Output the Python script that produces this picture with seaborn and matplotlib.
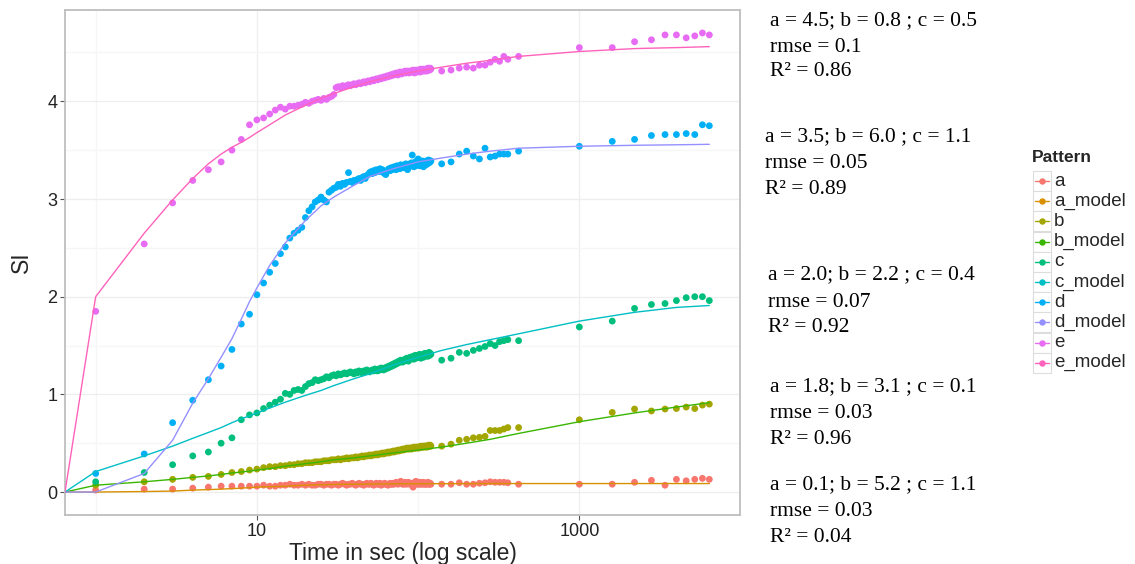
import numpy as np
import pandas as pd
import matplotlib
matplotlib.use("Agg")
import matplotlib.pyplot as plt
from matplotlib.lines import Line2D
from matplotlib.patches import Rectangle
from matplotlib.ticker import FixedLocator, NullFormatter
import seaborn as sns

# ---------------- data ----------------
t_dense = list(range(1, 121))
t_sparse = [140, 160, 180, 200, 220, 240, 260, 280, 300, 320, 340, 360, 420,
            1000, 1600, 2200, 2800, 3400, 4000, 4600, 5200, 5800, 6400]
times = t_dense + t_sparse

e_vals = [1.85, 2.54, 2.96, 3.19, 3.30, 3.38, 3.50, 3.61, 3.76, 3.81,
          3.83, 3.87, 3.91, 3.94, 3.92, 3.95, 3.95, 3.96, 3.97, 3.99,
          3.98, 4.00, 4.01, 4.02, 4.01, 4.03, 4.02, 4.04, 4.05, 4.07,
          4.14, 4.15, 4.14, 4.16, 4.15, 4.16, 4.17, 4.16, 4.17, 4.18,
          4.17, 4.18, 4.19, 4.18, 4.19, 4.20, 4.19, 4.20, 4.21, 4.20,
          4.21, 4.22, 4.21, 4.22, 4.23, 4.22, 4.23, 4.24, 4.23, 4.24,
          4.25, 4.24, 4.25, 4.26, 4.25, 4.26, 4.27, 4.26, 4.27, 4.28,
          4.27, 4.28, 4.29, 4.28, 4.27, 4.29, 4.30, 4.29, 4.28, 4.30,
          4.29, 4.30, 4.31, 4.29, 4.30, 4.31, 4.30, 4.29, 4.31, 4.30,
          4.31, 4.30, 4.32, 4.31, 4.29, 4.30, 4.32, 4.31, 4.30, 4.32,
          4.31, 4.32, 4.30, 4.33, 4.31, 4.32, 4.31, 4.33, 4.32, 4.31,
          4.32, 4.33, 4.31, 4.32, 4.34, 4.32, 4.33, 4.32, 4.34, 4.33,
          4.31, 4.32, 4.34, 4.35, 4.34, 4.37, 4.37, 4.40, 4.43, 4.41, 4.46, 4.43, 4.46,
          4.55, 4.55, 4.61, 4.63, 4.68, 4.68, 4.65, 4.67, 4.70, 4.68]

d_vals = [0.19, 0.39, 0.71, 0.94, 1.15, 1.29, 1.46, 1.72, 1.82, 2.02,
          2.14, 2.25, 2.34, 2.44, 2.51, 2.60, 2.65, 2.68, 2.71, 2.81,
          2.88, 2.92, 2.97, 2.99, 3.02, 2.99, 2.97, 3.07, 3.09, 3.11,
          3.12, 3.15, 3.13, 3.16, 3.15, 3.17, 3.27, 3.18, 3.17, 3.19,
          3.19, 3.20, 3.21, 3.19, 3.22, 3.23, 3.21, 3.24, 3.25, 3.27,
          3.28, 3.26, 3.29, 3.27, 3.30, 3.28, 3.29, 3.31, 3.28, 3.30,
          3.27, 3.26, 3.25, 3.28, 3.30, 3.31, 3.29, 3.32, 3.30, 3.31,
          3.33, 3.31, 3.30, 3.34, 3.32, 3.33, 3.31, 3.35, 3.33, 3.34,
          3.32, 3.35, 3.33, 3.36, 3.34, 3.30, 3.35, 3.33, 3.36, 3.34,
          3.37, 3.45, 3.35, 3.33, 3.36, 3.38, 3.34, 3.37, 3.35, 3.41,
          3.36, 3.38, 3.34, 3.37, 3.35, 3.39, 3.36, 3.33, 3.38, 3.36,
          3.37, 3.35, 3.39, 3.36, 3.38, 3.40, 3.37, 3.39, 3.38, 3.39,
          3.36, 3.38, 3.46, 3.49, 3.44, 3.41, 3.52, 3.43, 3.44, 3.46, 3.46, 3.46, 3.49,
          3.54, 3.59, 3.61, 3.65, 3.66, 3.66, 3.67, 3.66, 3.76, 3.75]

c_vals = [0.105, 0.20, 0.28, 0.37, 0.41, 0.50, 0.555, 0.74, 0.79, 0.81,
          0.855, 0.89, 0.92, 0.95, 1.01, 1.00, 1.04, 1.05, 1.04, 1.08,
          1.11, 1.12, 1.15, 1.14, 1.15, 1.16, 1.18, 1.17, 1.19, 1.20,
          1.19, 1.21, 1.20, 1.21, 1.22, 1.21, 1.22, 1.23, 1.22, 1.21,
          1.23, 1.22, 1.24, 1.23, 1.22, 1.24, 1.23, 1.25, 1.24, 1.23,
          1.24, 1.25, 1.24, 1.26, 1.25, 1.24, 1.26, 1.25, 1.27, 1.26,
          1.25, 1.27, 1.26, 1.28, 1.27, 1.29, 1.28, 1.30, 1.29, 1.31,
          1.30, 1.32, 1.31, 1.33, 1.32, 1.34, 1.33, 1.35, 1.34, 1.33,
          1.35, 1.34, 1.36, 1.35, 1.37, 1.36, 1.34, 1.37, 1.38, 1.36,
          1.38, 1.37, 1.39, 1.36, 1.38, 1.40, 1.37, 1.39, 1.38, 1.40,
          1.38, 1.41, 1.39, 1.37, 1.40, 1.39, 1.41, 1.38, 1.40, 1.42,
          1.39, 1.41, 1.40, 1.42, 1.39, 1.41, 1.43, 1.40, 1.42, 1.41,
          1.35, 1.37, 1.43, 1.42, 1.45, 1.47, 1.49, 1.52, 1.50, 1.54, 1.55, 1.56, 1.55,
          1.69, 1.75, 1.88, 1.92, 1.93, 1.96, 1.99, 2.00, 2.00, 1.96]

b_vals = [0.07, 0.105, 0.13, 0.15, 0.16, 0.18, 0.20, 0.21, 0.225, 0.235,
          0.25, 0.26, 0.26, 0.27, 0.27, 0.28, 0.28, 0.29, 0.29, 0.30,
          0.30, 0.30, 0.31, 0.31, 0.31, 0.32, 0.32, 0.32, 0.33, 0.33,
          0.33, 0.34, 0.33, 0.34, 0.34, 0.35, 0.34, 0.35, 0.35, 0.35,
          0.36, 0.35, 0.36, 0.36, 0.37, 0.36, 0.37, 0.37, 0.37, 0.38,
          0.37, 0.38, 0.38, 0.38, 0.39, 0.38, 0.39, 0.39, 0.39, 0.40,
          0.39, 0.40, 0.40, 0.40, 0.41, 0.40, 0.41, 0.41, 0.41, 0.42,
          0.41, 0.42, 0.42, 0.42, 0.43, 0.42, 0.43, 0.43, 0.43, 0.44,
          0.43, 0.44, 0.44, 0.44, 0.45, 0.44, 0.45, 0.44, 0.45, 0.45,
          0.44, 0.45, 0.45, 0.46, 0.45, 0.45, 0.46, 0.45, 0.46, 0.46,
          0.45, 0.46, 0.46, 0.47, 0.46, 0.46, 0.47, 0.46, 0.47, 0.47,
          0.46, 0.47, 0.47, 0.46, 0.47, 0.48, 0.47, 0.47, 0.48, 0.47,
          0.47, 0.49, 0.53, 0.54, 0.555, 0.56, 0.57, 0.63, 0.63, 0.63, 0.645, 0.66, 0.66,
          0.74, 0.815, 0.85, 0.83, 0.85, 0.855, 0.87, 0.855, 0.89, 0.90]

a_vals = [0.02, 0.03, 0.03, 0.04, 0.05, 0.06, 0.06, 0.06, 0.06, 0.06,
          0.07, 0.06, 0.06, 0.07, 0.07, 0.08, 0.07, 0.07, 0.08, 0.07,
          0.08, 0.07, 0.07, 0.08, 0.08, 0.07, 0.08, 0.08, 0.07, 0.08,
          0.08, 0.07, 0.08, 0.09, 0.08, 0.07, 0.08, 0.08, 0.09, 0.08,
          0.07, 0.08, 0.09, 0.08, 0.08, 0.07, 0.08, 0.09, 0.08, 0.08,
          0.09, 0.08, 0.07, 0.08, 0.09, 0.08, 0.08, 0.09, 0.07, 0.08,
          0.08, 0.09, 0.08, 0.08, 0.07, 0.08, 0.09, 0.08, 0.08, 0.09,
          0.08, 0.09, 0.10, 0.09, 0.08, 0.09, 0.10, 0.11, 0.09, 0.08,
          0.09, 0.08, 0.10, 0.09, 0.08, 0.09, 0.10, 0.09, 0.08, 0.09,
          0.08, 0.07, 0.05, 0.09, 0.10, 0.08, 0.11, 0.09, 0.08, 0.09,
          0.08, 0.09, 0.10, 0.08, 0.09, 0.08, 0.09, 0.10, 0.08, 0.09,
          0.08, 0.09, 0.08, 0.09, 0.10, 0.08, 0.09, 0.08, 0.09, 0.08,
          0.08, 0.08, 0.095, 0.08, 0.08, 0.09, 0.095, 0.105, 0.10, 0.10, 0.10, 0.095, 0.08,
          0.08, 0.08, 0.10, 0.12, 0.07, 0.13, 0.115, 0.13, 0.14, 0.13]

# fitted model curves (0 s is drawn at the left panel edge, as -Inf in log scale)
model_t = [0, 1, 2, 3, 4, 5, 6, 7, 8, 9, 10, 12, 15, 20, 25, 30, 40, 50, 70, 100,
           140, 200, 280, 420, 1000, 2200, 4000, 6400]
a_model = [0, 0.0, 0.005, 0.01, 0.02, 0.025, 0.03, 0.035, 0.04, 0.045, 0.05, 0.055, 0.06,
           0.07, 0.075, 0.078, 0.08, 0.082, 0.084, 0.085, 0.086, 0.086, 0.087, 0.087,
           0.087, 0.087, 0.087, 0.087]
b_model = [0, 0.07, 0.105, 0.13, 0.15, 0.165, 0.18, 0.195, 0.205, 0.215, 0.225, 0.24,
           0.265, 0.29, 0.31, 0.33, 0.35, 0.37, 0.40, 0.43, 0.46, 0.50, 0.54, 0.60,
           0.72, 0.81, 0.87, 0.915]
c_model = [0, 0.21, 0.37, 0.47, 0.55, 0.61, 0.66, 0.71, 0.75, 0.78, 0.81, 0.86, 0.92,
           0.99, 1.04, 1.09, 1.16, 1.21, 1.30, 1.38, 1.45, 1.51, 1.56, 1.62, 1.75, 1.84,
           1.89, 1.91]
d_model = [0, 0.0, 0.19, 0.53, 0.91, 1.16, 1.38, 1.57, 1.77, 1.95, 2.09, 2.32, 2.55,
           2.78, 2.93, 3.02, 3.14, 3.23, 3.31, 3.38, 3.42, 3.46, 3.49, 3.52, 3.54, 3.55,
           3.555, 3.56]
e_model = [0, 2.00, 2.65, 2.99, 3.21, 3.36, 3.46, 3.53, 3.58, 3.63, 3.68, 3.76, 3.86,
           3.96, 4.03, 4.08, 4.15, 4.20, 4.26, 4.31, 4.35, 4.39, 4.42, 4.46, 4.51, 4.54,
           4.55, 4.56]

patterns = ["a", "a_model", "b", "b_model", "c", "c_model", "d", "d_model", "e", "e_model"]
colors = ["#F8766D", "#D89000", "#A3A500", "#39B600", "#00BF7D",
          "#00BFC4", "#00B0F6", "#9590FF", "#E76BF3", "#FF62BC"]

annotations = [
    ["a = 4.5; b = 0.8 ; c = 0.5", "rmse = 0.1", "R\u00b2 = 0.86"],
    ["a = 3.5; b = 6.0 ; c = 1.1", "rmse = 0.05", "R\u00b2 = 0.89"],
    ["a = 2.0; b = 2.2 ; c = 0.4", "rmse = 0.07", "R\u00b2 = 0.92"],
    ["a = 1.8; b = 3.1 ; c = 0.1", "rmse = 0.03", "R\u00b2 = 0.96"],
    ["a = 0.1; b = 5.2 ; c = 1.1", "rmse = 0.03", "R\u00b2 = 0.04"],
]
ann_x = [770, 765, 768, 770, 770]
ann_y = [[21, 47, 72], [137, 163, 190], [275, 302, 328], [387, 413, 440], [485, 511, 537]]

# ---------------- build tables ----------------
obs = {"a": a_vals, "b": b_vals, "c": c_vals, "d": d_vals, "e": e_vals}
mods = {"a_model": a_model, "b_model": b_model, "c_model": c_model,
        "d_model": d_model, "e_model": e_model}

lo = np.log10(min(times)); hi = np.log10(max(times))
pad = 0.05 * (hi - lo)
xmin, xmax = 10 ** (lo - pad), 10 ** (hi + pad)

all_y = [v for vs in obs.values() for v in vs] + [v for vs in mods.values() for v in vs]
ylo, yhi = min(all_y), max(all_y)
ypad = 0.05 * (yhi - ylo)

df_pts = pd.concat([pd.DataFrame({"t": times, "SI": v, "Pattern": k}) for k, v in obs.items()])
mt = [xmin if tt == 0 else tt for tt in model_t]
df_mod = pd.concat([pd.DataFrame({"t": mt, "SI": v, "Pattern": k}) for k, v in mods.items()])

pal = dict(zip(patterns, colors))

# ---------------- plot ----------------
sns.set_theme(style="white")
plt.rcParams["font.family"] = ["Liberation Sans", "DejaVu Sans"]

W, H = 1135, 564
fig = plt.figure(figsize=(W / 100, H / 100), dpi=100)
ax = fig.add_axes([65 / W, 1 - 515 / H, (740 - 65) / W, (515 - 10) / H])
ax.set_xscale("log")

sns.scatterplot(data=df_pts, x="t", y="SI", hue="Pattern", palette=pal, s=24,
                linewidth=0, legend=False, ax=ax, zorder=3)
sns.lineplot(data=df_mod, x="t", y="SI", hue="Pattern", palette=pal, estimator=None,
             sort=False, lw=1.0, legend=False, ax=ax, zorder=4)

ax.set_xlim(xmin, xmax)
ax.set_ylim(ylo - ypad, yhi + ypad)

ax.xaxis.set_major_locator(FixedLocator([10, 1000]))
ax.xaxis.set_minor_locator(FixedLocator([1, 100]))
ax.xaxis.set_minor_formatter(NullFormatter())
ax.set_xticklabels(["10", "1000"])
ax.yaxis.set_major_locator(FixedLocator([0, 1, 2, 3, 4]))
ax.yaxis.set_minor_locator(FixedLocator([0.5, 1.5, 2.5, 3.5, 4.5]))

ax.grid(True, which="major", color="#EEEEEE", lw=0.9)
ax.grid(True, which="minor", color="#F6F6F6", lw=0.9)
ax.set_axisbelow(True)
for sp in ax.spines.values():
    sp.set_color("#BEBEBE")
    sp.set_linewidth(1.3)
ax.tick_params(which="major", length=3.5, width=0.8, color="#555555",
               labelsize=13, labelcolor="#222222", pad=2, bottom=True, left=True)
ax.tick_params(which="minor", length=0)

ax.set_xlabel("Time in sec (log scale)", fontsize=16.5, labelpad=2)
ax.set_ylabel("SI", fontsize=16.5, labelpad=10)

# legend (ggplot-style keys)
fig.text(1032 / W, 1 - 158 / H, "Pattern", fontsize=12.5, fontweight="bold",
         ha="left", va="center")
row0, step = 181, 20.2
for i, (lab, col) in enumerate(zip(patterns, colors)):
    yc = row0 + i * step
    fig.add_artist(Rectangle((1033 / W, 1 - (yc + 10) / H), 18 / W, 20 / H,
                             transform=fig.transFigure, facecolor="white",
                             edgecolor="#DDDDDD", lw=0.8))
    fig.add_artist(Line2D([1035 / W, 1049 / W], [1 - yc / H, 1 - yc / H],
                          transform=fig.transFigure, color=col, lw=1.0))
    fig.add_artist(Line2D([1042 / W], [1 - yc / H], transform=fig.transFigure,
                          color=col, marker="o", markersize=3.6, lw=0))
    fig.text(1054 / W, 1 - yc / H, lab, fontsize=13.5, ha="left", va="center")

# annotations
for lines, x0, ys in zip(annotations, ann_x, ann_y):
    for s, y in zip(lines, ys):
        fig.text(x0 / W, 1 - y / H, s, ha="left", va="center",
                 fontsize=15.5, family="Liberation Serif", color="black")

fig.savefig("out.png", dpi=100)
